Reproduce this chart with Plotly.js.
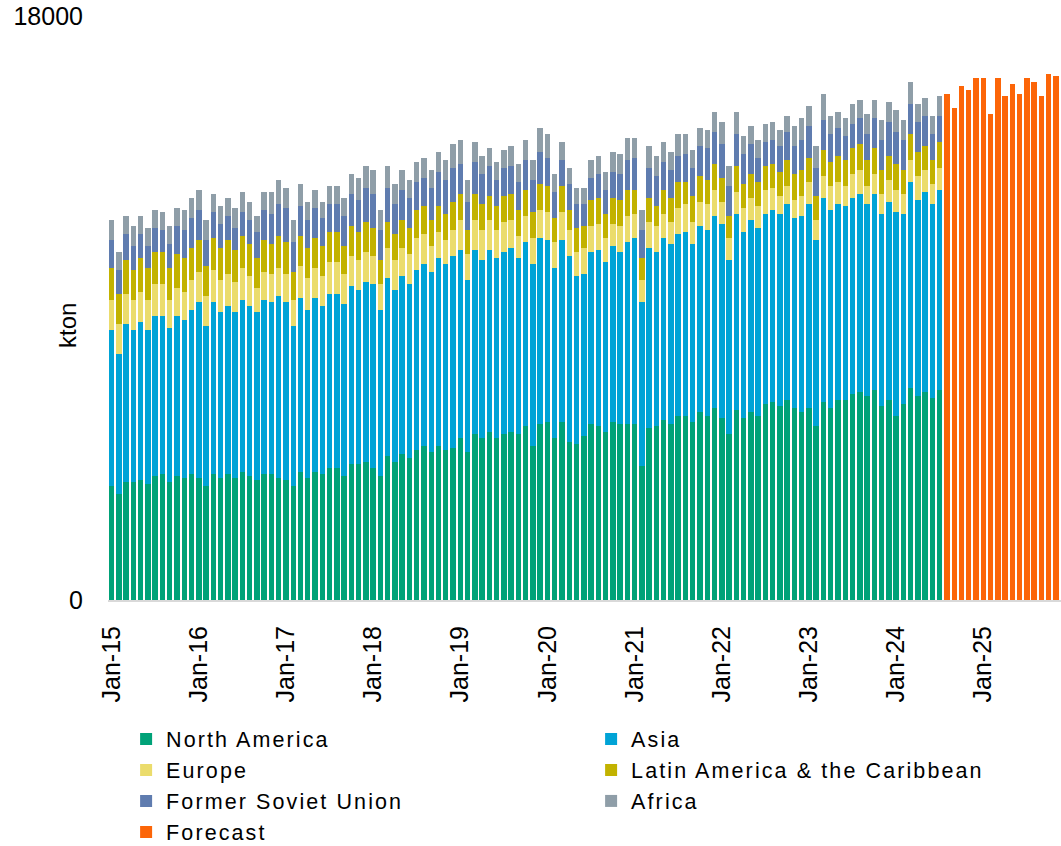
<!DOCTYPE html>
<html>
<head>
<meta charset="utf-8">
<script src="https://cdn.plot.ly/plotly-3.0.1.min.js"></script>
<style>
  html, body { margin: 0; padding: 0; background: #ffffff; }
  #chart { width: 1061px; height: 846px; }
  .legendtext { letter-spacing: 2.1px; }
</style>
</head>
<body>
<div id="chart"></div>
<script>
// ---- categories (months Jan-15 .. Nov-25) ----
const monthNames = ['Jan','Feb','Mar','Apr','May','Jun','Jul','Aug','Sep','Oct','Nov','Dec'];
const yearLabels = ['15','16','17','18','19','20','21','22','23','24','25'];
const months = [];
yearLabels.forEach(y => monthNames.forEach(m => months.push(m + '-' + y)));
const categories = months.slice(0, 131);           // Jan-15 .. Nov-25
const histMonths = categories.slice(0, 115);       // Jan-15 .. Jul-24
const forecastMonths = categories.slice(115);      // Aug-24 .. Nov-25
const tickLabels = ['Jan-15','Jan-16','Jan-17','Jan-18','Jan-19','Jan-20','Jan-21','Jan-22','Jan-23','Jan-24','Jan-25'];

// ---- series values (kton) ----
const northAmerica = [
  3513,3267,3637,3637,3698,3575,3822,3883,3637,3822,3760,3883,
  3760,3513,3883,3760,3883,3760,3945,3822,3698,3883,3883,3760,
  3698,3513,3945,3760,3945,3883,4068,4068,3822,4191,4191,4253,
  4068,3822,4438,4253,4500,4376,4623,4746,4561,4746,4623,4684,
  4993,4561,5116,4993,5178,4993,5116,5178,5116,5363,4746,5424,
  5486,4993,5486,4869,4808,5054,5424,5363,5178,5486,5424,5424,
  5424,4130,5301,5363,5547,5424,5671,5671,5486,5794,5671,5917,
  5609,5116,5856,5609,5794,5671,6041,6102,5979,6164,5917,5794,
  5917,5360,6102,5922,6166,6166,6347,6410,6294,6474,5986,6166,
  5678,6049,6538,6294,6410,6230,6474];
const asia = [
  4808,4315,4869,4684,4869,4746,4931,4869,4746,4931,4869,5054,
  5424,4931,5301,5116,5178,5116,5301,5239,5178,5363,5301,5609,
  5486,4931,5363,5178,5363,5178,5363,5363,5301,5486,5363,5547,
  5671,5116,5486,5301,5486,5363,5547,5609,5547,5794,5732,5917,
  5794,5301,5671,5486,5609,5547,5609,5671,5424,5671,5609,5732,
  5609,5239,5609,5732,5178,4993,5301,5424,5239,5424,5301,5609,
  5732,5054,5547,5363,5609,5547,5609,5671,5486,5732,5732,5917,
  5979,5363,6041,5732,5917,5794,5856,5917,5917,6041,5856,6041,
  6287,5731,6283,6092,6039,5975,6039,6102,5911,6039,5911,6102,
  6283,5848,6347,6028,6166,5975,6166];
const europe = [
  925,925,925,925,925,925,986,986,863,863,863,925,
  925,925,986,986,986,925,986,925,740,863,863,863,
  863,801,986,986,925,925,986,986,925,925,925,925,
  863,801,925,925,863,925,986,925,801,801,740,801,
  925,801,925,925,925,863,925,863,678,801,801,863,
  863,801,863,801,740,801,801,801,740,678,801,801,
  740,678,801,801,740,678,801,863,678,740,801,801,
  678,678,678,740,678,678,740,678,555,555,555,616,
  678,616,679,743,679,616,743,743,552,616,616,679,
  679,616,679,743,679,616,669];
const latinAmerica = [
  986,925,1048,925,1048,986,986,986,986,1048,1048,986,
  986,925,986,986,1048,986,986,986,925,986,925,986,
  986,863,925,925,925,925,925,925,863,925,863,925,
  863,740,801,801,863,801,863,863,801,801,801,863,
  801,740,801,801,740,740,801,801,801,801,801,801,
  801,740,801,616,740,678,801,801,740,801,801,801,
  740,678,740,616,740,740,801,678,801,801,740,801,
  740,678,801,740,740,740,740,740,740,801,801,801,
  740,743,807,743,796,807,796,796,807,796,743,732,
  796,743,796,743,732,743,807];
const formerSovietUnion = [
  863,740,801,740,740,678,740,678,740,863,863,925,
  925,801,801,740,740,678,740,740,801,925,925,986,
  1048,925,925,863,925,863,863,863,925,986,986,1048,
  1048,925,1048,925,925,925,863,863,986,1048,1048,1048,
  925,863,986,925,925,801,863,863,863,925,986,986,
  863,801,801,801,740,678,678,740,740,801,801,925,
  986,863,925,925,863,863,801,863,863,925,986,986,
  1048,925,986,925,925,740,740,740,801,863,863,925,
  986,860,923,860,870,732,743,807,796,934,923,1051,
  987,923,923,923,923,796,796];
const africa = [
  616,555,555,616,555,555,555,555,555,555,616,616,
  616,616,555,555,555,616,616,555,493,555,678,740,
  616,678,678,555,555,493,555,555,555,616,678,678,
  740,616,678,616,616,555,616,616,555,616,616,740,
  740,678,616,555,555,555,555,616,555,616,616,740,
  740,555,555,493,493,493,555,555,555,616,616,678,
  616,616,678,616,616,555,678,616,555,555,555,616,
  678,616,678,555,555,555,555,555,493,493,616,678,
  616,679,796,552,488,562,616,552,616,552,616,616,
  679,616,679,552,562,552,616];
const forecast = [15590,15170,15850,15720,16090,16090,14980,16090,15530,15900,15590,16090,15970,15530,16210,16160];

// ---- styling ----
const FONT = 'Liberation Sans, Arial, Helvetica, sans-serif';
const seriesDefs = [
  {name: 'North America', y: northAmerica, color: '#00A278'},
  {name: 'Asia', y: asia, color: '#00A3D6'},
  {name: 'Europe', y: europe, color: '#EBDC6C'},
  {name: 'Latin America & the Caribbean', y: latinAmerica, color: '#C2B200'},
  {name: 'Former Soviet Union', y: formerSovietUnion, color: '#5F7CAF'},
  {name: 'Africa', y: africa, color: '#8F9EA8'}
];

const traces = seriesDefs.map(s => ({
  type: 'bar', name: s.name, x: histMonths, y: s.y,
  marker: {color: s.color, line: {width: 0}},
  hoverinfo: 'x+y+name'
}));
traces.push({
  type: 'bar', name: 'Forecast', x: forecastMonths, y: forecast,
  marker: {color: '#FC6508', line: {width: 0}}, hoverinfo: 'x+y+name'
});

const layout = {
  width: 1061, height: 846,
  margin: {l: 108, r: 0, t: 16, b: 246, pad: 0, autoexpand: false},
  paper_bgcolor: '#ffffff', plot_bgcolor: '#ffffff',
  barmode: 'stack', bargap: 0.25,
  font: {family: FONT, color: '#000000'},
  showlegend: true,
  legend: {
    orientation: 'h', traceorder: 'normal',
    x: 0.019, xanchor: 'left', y: -0.203, yanchor: 'top',
    entrywidth: 420, entrywidthmode: 'pixels',
    font: {family: FONT, size: 21.5, color: '#000000'},
    bgcolor: 'rgba(0,0,0,0)', borderwidth: 0
  },
  xaxis: {
    type: 'category', categoryorder: 'array', categoryarray: categories,
    range: [-0.5, 130.7], automargin: false,
    tickmode: 'array', tickvals: tickLabels, ticktext: tickLabels,
    tickangle: -90, tickfont: {family: FONT, size: 25, color: '#000000'},
    ticks: '', ticklabelstandoff: 14,
    showline: true, linecolor: '#d9d9d9', linewidth: 2,
    showgrid: false, zeroline: false, fixedrange: true
  },
  yaxis: {
    range: [0, 18000], automargin: false,
    tickmode: 'array', tickvals: [0, 18000], ticktext: ['0', '18000'],
    tickfont: {family: FONT, size: 25, color: '#000000'},
    ticks: '', ticklabelstandoff: 24,
    showgrid: true, gridcolor: '#d9d9d9', gridwidth: 1.5,
    zeroline: false, showline: false, fixedrange: true
  },
  annotations: [{
    text: 'kton', xref: 'paper', yref: 'paper',
    x: -0.042, y: 0.471, xanchor: 'center', yanchor: 'middle',
    textangle: -90, showarrow: false,
    font: {family: FONT, size: 24, color: '#000000'}
  }]
};

Plotly.newPlot('chart', traces, layout, {displayModeBar: false, staticPlot: true});
</script>
</body>
</html>
